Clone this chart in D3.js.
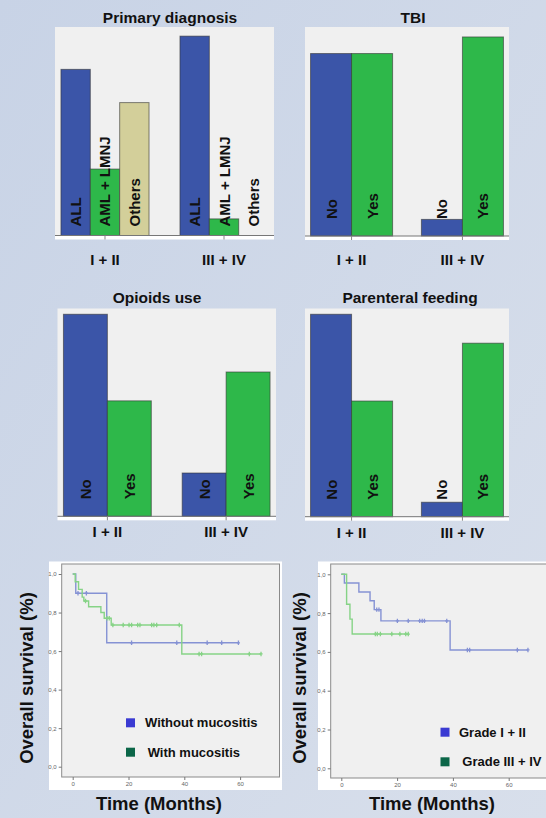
<!DOCTYPE html>
<html>
<head>
<meta charset="utf-8">
<script src="https://cdn.jsdelivr.net/npm/d3@7"></script>
<style>
  body { margin: 0; background: #ccd6e7; }
  svg { display: block; font-family: "Liberation Sans", Arial, sans-serif; }
</style>
</head>
<body>
<svg id="chart"></svg>
<script>
// ---- data ----
let groups = ["I + II", "III + IV"];

let diagnosisCats = ["ALL", "AML + LMNJ", "Others"];
let diagnosisValues = [[10, 4, 8], [12, 1, 0]];

let yesNoCats = ["No", "Yes"];
let tbiValues = [[11, 11], [1, 12]];
let opioidValues = [[14, 8], [3, 10]];
let feedingValues = [[14, 8], [1, 12]];

// survival curves: [time in months, survival after the step]
let kmYTicks = [0, 0.2, 0.4, 0.6, 0.8, 1.0];
let kmYTickLabels = ["0,0", "0,2", "0,4", "0,6", "0,8", "1,0"];
let kmXTicks = [0, 20, 40, 60];

let noMucositisSteps = [[0, 1], [1.1, 0.9], [12.2, 0.643]];
let noMucositisCensored = [1.9, 4.9, 21.1, 37.3, 48.2, 53.4, 59.4];

let mucositisSteps = [[0, 1], [0.9, 0.96], [2.1, 0.92], [3.4, 0.88], [4.0, 0.86],
  [5.7, 0.83], [10.1, 0.8], [11.3, 0.77], [13.8, 0.735], [39.1, 0.585]];
let mucositisCensored = [4.6, 12.3, 13.1, 14.4, 18.1, 20.2, 21.1, 23.3, 24.1, 28.3,
  29.1, 30.1, 38.2, 45.3, 46.2, 63.3, 67.5];

let gradeLowSteps = [[0, 1], [1.1, 0.955], [6.3, 0.909], [10.3, 0.864], [11.8, 0.818],
  [14.2, 0.76], [39.0, 0.61]];
let gradeLowCensored = [12.7, 13.5, 20.1, 24.0, 28.1, 29.0, 29.8, 37.8, 45.2, 46.0, 63.1, 66.9];

let gradeHighSteps = [[0, 1], [1.9, 0.846], [3.1, 0.769], [3.9, 0.692]];
let gradeHighCensored = [12.2, 12.9, 14.0, 18.1, 21.0, 23.1, 24.0];

// ---- drawing ----
let width = 546;
let height = 818;
let blue = "#3b55a8";
let green = "#2eb84a";
let khaki = "#d3cf9a";

let svg = d3.select("#chart").attr("width", width).attr("height", height);

let drawBackground = () => {
  let grad = svg.append("defs").append("linearGradient")
    .attr("id", "bg").attr("x1", 0).attr("y1", 0).attr("x2", 1).attr("y2", 1);
  grad.append("stop").attr("offset", "0%").attr("stop-color", "#c8d3e6");
  grad.append("stop").attr("offset", "100%").attr("stop-color", "#d8dfeb");
  svg.append("rect").attr("width", width).attr("height", height).attr("fill", "url(#bg)");
};

let drawBarPanel = (cfg) => {
  let g = svg.append("g");

  let xGroup = d3.scaleBand().domain(groups).range([cfg.x0, cfg.x1])
    .paddingInner(0.26).paddingOuter(0.05);
  let xSub = d3.scaleBand().domain(cfg.cats).range([0, xGroup.bandwidth()]);
  let yScale = d3.scaleLinear().domain([0, cfg.yMax]).range([cfg.base, cfg.top]);

  g.append("rect")
    .attr("x", cfg.x0).attr("y", cfg.top)
    .attr("width", cfg.x1 - cfg.x0).attr("height", cfg.base - cfg.top)
    .attr("fill", "#f0f0f0");
  g.append("rect")
    .attr("x", cfg.x0).attr("y", cfg.base)
    .attr("width", cfg.x1 - cfg.x0).attr("height", 4)
    .attr("fill", "#ffffff");

  let rows = [];
  groups.forEach((grp, i) => {
    cfg.cats.forEach((cat, j) => {
      rows.push({ grp: grp, cat: cat, value: cfg.values[i][j], color: cfg.colors[j] });
    });
  });

  g.selectAll(".bar")
    .data(rows)
    .enter()
    .append("rect")
    .attr("class", "bar")
    .attr("x", (d) => xGroup(d.grp) + xSub(d.cat))
    .attr("y", (d) => yScale(d.value))
    .attr("width", xSub.bandwidth())
    .attr("height", (d) => cfg.base - yScale(d.value))
    .attr("fill", (d) => d.color)
    .attr("stroke", (d) => (d.value > 0 ? "#333" : "none"))
    .attr("stroke-opacity", 0.6)
    .attr("stroke-width", 1);

  g.selectAll(".barlabel")
    .data(rows)
    .enter()
    .append("text")
    .attr("class", "barlabel")
    .attr("transform", (d) => {
      let cx = xGroup(d.grp) + xSub(d.cat) + xSub.bandwidth() / 2;
      return "translate(" + cx + "," + (cfg.base - cfg.labelOffset) + ") rotate(-90)";
    })
    .attr("dominant-baseline", "central")
    .attr("font-size", 15)
    .attr("font-weight", "bold")
    .attr("fill", "#111")
    .text((d) => d.cat);

  g.append("line")
    .attr("x1", cfg.x0).attr("x2", cfg.x1)
    .attr("y1", cfg.base).attr("y2", cfg.base)
    .attr("stroke", "#777").attr("stroke-width", 1);

  let axis = g.append("g")
    .attr("transform", "translate(0," + cfg.base + ")")
    .call(d3.axisBottom(xGroup).tickSize(4).tickSizeOuter(0));
  axis.select(".domain").remove();
  axis.selectAll(".tick line").attr("stroke", "#888");
  axis.selectAll(".tick text")
    .attr("y", cfg.labelDy).attr("dy", null)
    .attr("font-size", 15)
    .attr("font-weight", "bold")
    .attr("font-family", "'Liberation Sans', Arial, sans-serif")
    .attr("fill", "#111");

  g.append("text")
    .attr("x", cfg.titleX).attr("y", cfg.titleY)
    .attr("text-anchor", "middle")
    .attr("font-size", 15.5)
    .attr("font-weight", "bold")
    .attr("fill", "#111")
    .text(cfg.title);
};

let survivalAt = (steps, t) => {
  let s = steps[0][1];
  steps.forEach((st) => { if (st[0] <= t) s = st[1]; });
  return s;
};

let drawKmPanel = (cfg) => {
  let g = svg.append("g");

  g.append("rect")
    .attr("x", cfg.panel[0]).attr("y", cfg.panel[1])
    .attr("width", cfg.panel[2] - cfg.panel[0]).attr("height", cfg.panel[3] - cfg.panel[1])
    .attr("fill", "#ffffff");
  g.append("rect")
    .attr("x", cfg.frame[0]).attr("y", cfg.frame[1])
    .attr("width", cfg.frame[2] - cfg.frame[0]).attr("height", cfg.frame[3] - cfg.frame[1])
    .attr("fill", "#f0f0f0")
    .attr("stroke", "#8a8a8a").attr("stroke-width", 1);

  let xScale = d3.scaleLinear().domain([0, 60]).range([cfg.xZero, cfg.xSixty]);
  let yScale = d3.scaleLinear().domain([0, 1]).range([cfg.yZero, cfg.yOne]);

  let yAxis = g.append("g")
    .attr("transform", "translate(" + cfg.frame[0] + ",0)")
    .call(d3.axisLeft(yScale).tickValues(kmYTicks).tickSize(3).tickPadding(2)
      .tickFormat((d, i) => kmYTickLabels[i]));
  yAxis.select(".domain").remove();
  yAxis.selectAll(".tick line").attr("stroke", "#777");
  yAxis.selectAll(".tick text").attr("font-size", 6).attr("fill", "#666")
    .attr("font-family", "'Liberation Sans', Arial, sans-serif");

  let xAxis = g.append("g")
    .attr("transform", "translate(0," + cfg.frame[3] + ")")
    .call(d3.axisBottom(xScale).tickValues(kmXTicks).tickSize(3).tickPadding(2));
  xAxis.select(".domain").remove();
  xAxis.selectAll(".tick line").attr("stroke", "#777");
  xAxis.selectAll(".tick text").attr("font-size", 6).attr("fill", "#666")
    .attr("font-family", "'Liberation Sans', Arial, sans-serif");

  let line = d3.line()
    .x((d) => xScale(d[0]))
    .y((d) => yScale(d[1]))
    .curve(d3.curveStepAfter);

  cfg.series.forEach((s) => {
    let last = s.steps[s.steps.length - 1];
    let end = Math.max(last[0], d3.max(s.censored));
    let pts = s.steps.concat([[end, last[1]]]);
    g.append("path")
      .attr("d", line(pts))
      .attr("fill", "none")
      .attr("stroke", s.color)
      .attr("stroke-width", 1.4);

    g.selectAll(null)
      .data(s.censored)
      .enter()
      .append("path")
      .attr("d", (t) => {
        let cx = xScale(t);
        let cy = yScale(survivalAt(s.steps, t));
        return "M" + cx + "," + (cy - 2.2) + "V" + (cy + 2.2) +
          "M" + (cx - 1.6) + "," + cy + "H" + (cx + 1.6);
      })
      .attr("stroke", s.color)
      .attr("stroke-width", 1.3);
  });

  let legend = g.append("g");
  cfg.legend.forEach((item) => {
    legend.append("rect")
      .attr("x", item.x).attr("y", item.y - 9)
      .attr("width", 9).attr("height", 9)
      .attr("fill", item.color);
    legend.append("text")
      .attr("x", item.tx).attr("y", item.y)
      .attr("font-size", 13)
      .attr("font-weight", "bold")
      .attr("fill", "#111")
      .text(item.label);
  });

  g.append("text")
    .attr("transform", "translate(" + cfg.yLabelX + ",678) rotate(-90)")
    .attr("text-anchor", "middle")
    .attr("dominant-baseline", "central")
    .attr("font-size", 18.5)
    .attr("font-weight", "bold")
    .attr("fill", "#111")
    .text("Overall survival (%)");

  g.append("text")
    .attr("x", cfg.xLabelX).attr("y", 810)
    .attr("text-anchor", "middle")
    .attr("font-size", 18.5)
    .attr("font-weight", "bold")
    .attr("fill", "#111")
    .text("Time (Months)");
};

drawBackground();

drawBarPanel({
  title: "Primary diagnosis", cats: diagnosisCats, values: diagnosisValues,
  colors: [blue, green, khaki], x0: 55, x1: 274, top: 27, base: 235.5, yMax: 12.55,
  titleX: 170, titleY: 22.5, labelOffset: 9, labelDy: 29.5
});
drawBarPanel({
  title: "TBI", cats: yesNoCats, values: tbiValues,
  colors: [blue, green], x0: 305, x1: 509, top: 27, base: 236, yMax: 12.6,
  titleX: 413, titleY: 22.5, labelOffset: 17, labelDy: 29
});
drawBarPanel({
  title: "Opioids use", cats: yesNoCats, values: opioidValues,
  colors: [blue, green], x0: 57.5, x1: 276, top: 308.5, base: 516.3, yMax: 14.4,
  titleX: 157, titleY: 302.7, labelOffset: 17, labelDy: 21
});
drawBarPanel({
  title: "Parenteral feeding", cats: yesNoCats, values: feedingValues,
  colors: [blue, green], x0: 305, x1: 509, top: 308.5, base: 516.7, yMax: 14.4,
  titleX: 410, titleY: 302.7, labelOffset: 17, labelDy: 21
});

drawKmPanel({
  panel: [49, 561.5, 282, 790], frame: [61.7, 564, 279.5, 777],
  xZero: 72.7, xSixty: 240.1, yZero: 766.7, yOne: 574,
  series: [
    { steps: noMucositisSteps, censored: noMucositisCensored, color: "#8592d4" },
    { steps: mucositisSteps, censored: mucositisCensored, color: "#86d386" }
  ],
  legend: [
    { x: 126, y: 727.3, tx: 145, color: "#3a3ad2", label: "Without mucositis" },
    { x: 126, y: 756.7, tx: 147.7, color: "#0b6648", label: "With mucositis" }
  ],
  yLabelX: 26.7, xLabelX: 159
});
drawKmPanel({
  panel: [318, 561.5, 548, 790], frame: [330.7, 564, 550, 778],
  xZero: 341.3, xSixty: 508.7, yZero: 768.3, yOne: 574.3,
  series: [
    { steps: gradeLowSteps, censored: gradeLowCensored, color: "#8592d4" },
    { steps: gradeHighSteps, censored: gradeHighCensored, color: "#86d386" }
  ],
  legend: [
    { x: 440.5, y: 736.7, tx: 459, color: "#3a3ad2", label: "Grade I + II" },
    { x: 440.5, y: 766.3, tx: 462.3, color: "#0b6648", label: "Grade III + IV" }
  ],
  yLabelX: 299.7, xLabelX: 432
});
</script>
</body>
</html>
